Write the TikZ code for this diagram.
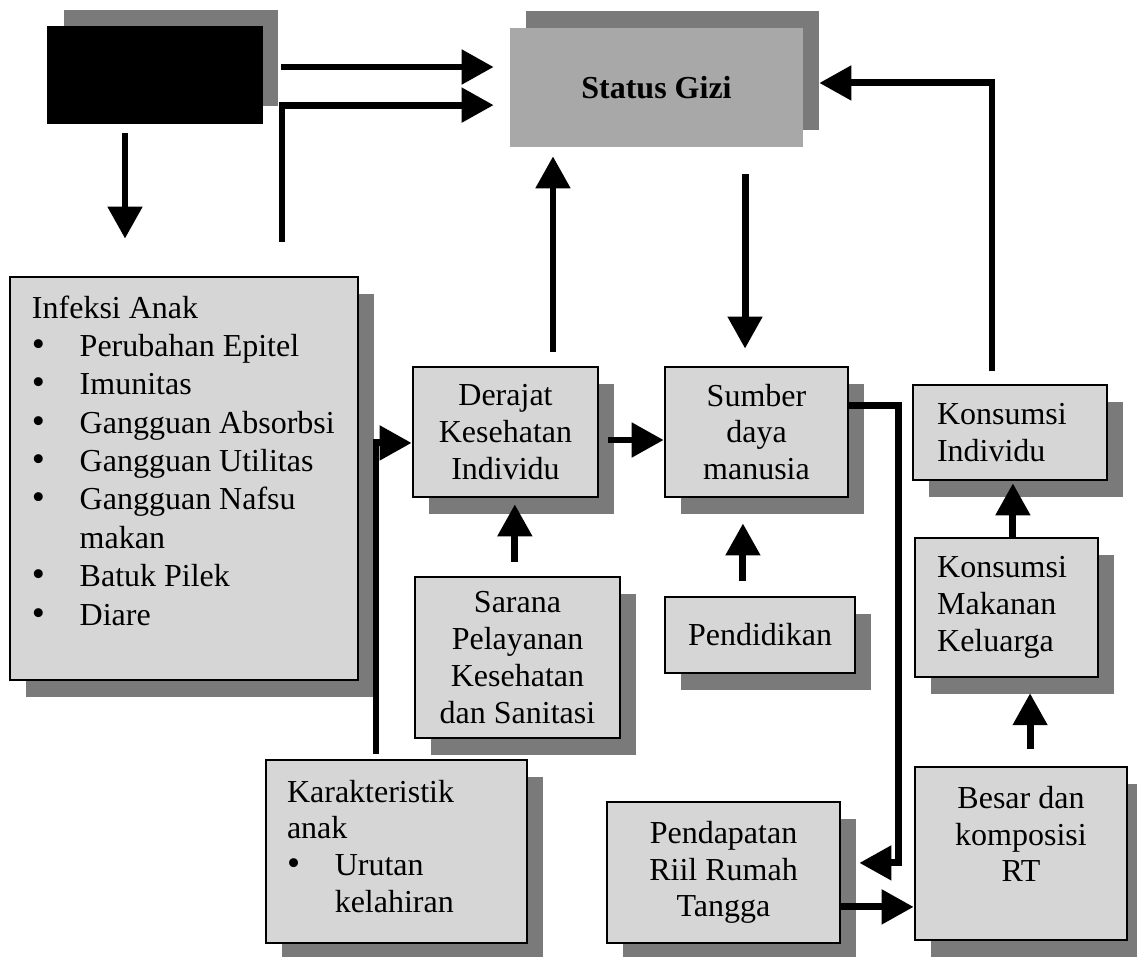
\documentclass[tikz,border=0pt]{standalone}
\usepackage{fontspec}
\setmainfont{Liberation Serif}
\usepackage{tikz}
\usetikzlibrary{arrows.meta,shadows}

\definecolor{isi}{gray}{0.84}
\definecolor{bayang}{gray}{0.48}
\definecolor{isigizi}{gray}{0.66}
\newcommand{\titik}{{\fontsize{14}{10}\selectfont\textbullet}}

\begin{document}
\begin{tikzpicture}[->, >={Triangle[length=12pt,width=12.5pt]}, line width=2.6pt,
                    x=0.375pt, y=-0.375pt, font=\fontsize{12}{13.8}\selectfont]
    \tikzstyle{kotak}=[draw=black, line width=1pt, fill=isi, inner sep=0pt,
        drop shadow={shadow xshift=6pt, shadow yshift=-6.4pt, fill=bayang, opacity=1}]
    \tikzstyle{kotak atas}=[draw=black, line width=1pt, fill=isi, inner sep=0pt,
        drop shadow={shadow xshift=6pt, shadow yshift=6.5pt, fill=bayang, opacity=1}]

    \useasboundingbox (0,0) rectangle (1137,956);

    \node[kotak atas, fill=black, minimum width=80.25pt, minimum height=36pt] (blok) at (155,75) {};
    \node[kotak atas, draw=none, fill=isigizi, minimum width=109.9pt, minimum height=44.6pt,
          font=\fontsize{12}{13.8}\selectfont\bfseries] (gizi) at (656.5,87.5) {Status Gizi};

    \node[kotak, minimum width=130.5pt, minimum height=151.1pt] (infeksi) at (184,478.5)
        {\parbox[c][140.5pt][t]{114pt}{\def\arraystretch{1.043}%
         \begin{tabular}{@{}l@{\hspace{13pt}}l@{}}
         \multicolumn{2}{@{}l@{}}{Infeksi Anak}\\
         \titik & Perubahan Epitel\\
         \titik & Imunitas\\
         \titik & Gangguan Absorbsi\\
         \titik & Gangguan Utilitas\\
         \titik & Gangguan Nafsu\\
                & makan\\
         \titik & Batuk Pilek\\
         \titik & Diare
         \end{tabular}}};
    \node[kotak, minimum width=69.4pt, minimum height=48.75pt, align=center] (derajat) at (505.5,432)
        {Derajat\\Kesehatan\\Individu};
    \node[kotak, minimum width=68.6pt, minimum height=48.75pt, align=center] (sumber) at (756.5,432)
        {Sumber\\daya\\manusia};
    \node[kotak, minimum width=72.75pt, minimum height=35.6pt] (konsind) at (1010,432.5)
        {\parbox{54.75pt}{Konsumsi\\Individu}};
    \node[kotak, minimum width=68.6pt, minimum height=52.1pt] (konsmak) at (1006.5,607.5)
        {\parbox{52pt}{Konsumsi\\Makanan\\Keluarga}};
    \node[kotak, minimum width=76.9pt, minimum height=60.4pt, align=center] (sarana) at (517.5,657.5)
        {Sarana\\Pelayanan\\Kesehatan\\dan Sanitasi};
    \node[kotak, minimum width=71.25pt, minimum height=28.5pt] (pendidikan) at (760,635) {Pendidikan};
    \node[kotak, minimum width=97.9pt, minimum height=68.6pt] (karakter) at (396.5,851.5)
        {\parbox[c][56.4pt][t]{82.1pt}{%
         \begin{tabular}{@{}l@{\hspace{13pt}}l@{}}
         \multicolumn{2}{@{}l@{}}{Karakteristik}\\
         \multicolumn{2}{@{}l@{}}{anak}\\
         \titik & Urutan\\
                & kelahiran
         \end{tabular}}};
    \node[kotak, minimum width=87.4pt, minimum height=52.9pt, align=center] (pendapatan) at (723.5,872.5)
        {Pendapatan\\Riil Rumah\\Tangga};
    \node[kotak, minimum width=79.5pt, minimum height=64.9pt] (besar) at (1021,853.5)
        {\parbox[c][50.6pt][t]{75pt}{\centering Besar dan\\komposisi\\RT}};

    % panah ke status gizi
    \draw[shorten <=6.7pt, shorten >=5.6pt] ([yshift=3pt]blok.east) -- ([yshift=3pt]blok.east -| gizi.west);
    \draw[shorten <=12.75pt, shorten >=5.6pt] ([xshift=36.75pt]infeksi.north) |- ([yshift=-6.6pt]gizi.west);
    \draw[shorten <=3.4pt, shorten >=13.9pt] ([xshift=-11.25pt]blok.south) -- ([xshift=-11.25pt]blok.south |- infeksi.north);
    \draw[shorten <=5.25pt, shorten >=3pt] ([xshift=17.8pt]derajat.north) -- ([xshift=17.8pt]derajat.north |- gizi.south);
    \draw[shorten <=9.75pt, shorten >=6.4pt] ([xshift=-4.3pt]sumber.north |- gizi.south) -- ([xshift=-4.3pt]sumber.north);
    \draw[shorten <=4.9pt, shorten >=5.6pt] ([xshift=-6.75pt]konsind.north) |- ([yshift=1.7pt]gizi.east);

    % panah di tengah
    \draw[shorten <=3.4pt] ([yshift=-3pt]derajat.east) -- ([yshift=-3pt]derajat.east -| sumber.west);
    \draw[shorten <=5.25pt, shorten >=2.25pt] ([xshift=-1pt]sarana.north) -- ([xshift=-1pt]sarana.north |- derajat.south);
    \draw[shorten <=5.6pt, shorten >=9.4pt] ([xshift=-6.4pt]pendidikan.north) -- ([xshift=-6.4pt]pendidikan.north |- sumber.south);
    \draw[shorten <=1.9pt] ([xshift=-7.7pt]karakter.north) |- ([yshift=-4.1pt]derajat.west);

    % panah di kanan
    \draw[shorten >=6.75pt] ([yshift=10.1pt]sumber.east) -- ++(49,0) |- ([yshift=3.6pt]pendapatan.east);
    \draw ([yshift=-12.9pt]pendapatan.east) -- ([yshift=-12.9pt]pendapatan.east -| besar.west);
    \draw[shorten <=6.4pt, shorten >=5.6pt] ([xshift=3.4pt]besar.north) -- ([xshift=3.4pt]besar.north |- konsmak.south);
    \draw[shorten >=0.75pt] ([xshift=2.4pt]konsmak.north) -- ([xshift=2.4pt]konsmak.north |- konsind.south);
\end{tikzpicture}
\end{document}
